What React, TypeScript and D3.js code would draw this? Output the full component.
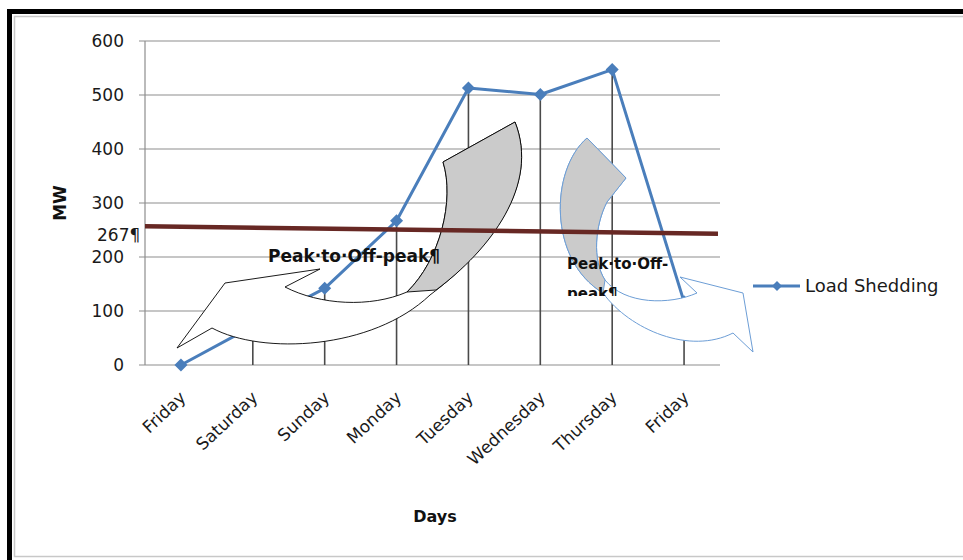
import React from 'react';
import * as d3 from 'd3';

const days = ['Friday', 'Saturday', 'Sunday', 'Monday', 'Tuesday', 'Wednesday', 'Thursday', 'Friday'];
const loadShedding = [0, 72, 142, 267, 513, 501, 547, 117];
const yTicks = [0, 100, 200, 300, 400, 500, 600];
// hand-drawn reference line (slightly sloped), MW at left and right end
const refLine = [257, 243];
const refLabel = '267¶';
const seriesName = 'Load Shedding';
const noteLeft = 'Peak·to·Off-peak¶';
const noteRight = ['Peak·to·Off-', 'peak¶'];

// the two curved callout arrows, page pixels
const arrow1Outline =
  'M285,287 L320,269 L225,283 L177,348 L212,328 C262,355 372,350 430,295 C490,250 540,185 515,122 L443,162 C455,200 440,260 407,292 C370,308 320,305 285,287 Z';
const arrow1Back = 'M443,162 L515,122 C540,185 490,250 436,290 L407,292 C440,260 455,200 443,162 Z';
const arrow2Outline =
  'M587,138 C550,170 548,260 603,293 C630,330 690,355 733,333 L753,352 L743,293 L680,277 L697,293 C670,305 625,305 605,280 C592,260 595,225 607,202 L626,178 Z';
const arrow2Back = 'M587,138 C550,170 548,260 603,293 L605,280 C592,260 595,225 607,202 L626,178 Z';

const font = '"DejaVu Sans", sans-serif';

export default function App() {
  const width = 963;
  const height = 560;
  const plot = { left: 145, right: 720, top: 41, bottom: 365 };

  const x = d3.scalePoint<number>()
    .domain(d3.range(days.length))
    .range([plot.left, plot.right])
    .padding(0.5);
  const y = d3.scaleLinear().domain([0, 600]).range([plot.bottom, plot.top]);

  const line = d3.line<number>()
    .x((_, i) => x(i)!)
    .y(d => y(d));

  const diamond = d3.symbol().type(d3.symbolSquare).size(85)()!;
  const legendDiamond = d3.symbol().type(d3.symbolSquare).size(50)()!;

  const blue = '#4a7ebb';

  return (
    <svg width={width} height={height} style={{ position: 'absolute', left: 0, top: 0, background: '#fff' }}>
      {/* frame */}
      <rect x={9.5} y={11.5} width={1000} height={560} fill="none" stroke="#000" strokeWidth={5} />
      <rect x={14.5} y={16.5} width={1000} height={540} fill="none" stroke="#c8c8c8" strokeWidth={1.5} />

      {/* gridlines + y ticks */}
      {yTicks.map(t => (
        <g key={t}>
          <line x1={plot.left - 6} x2={plot.right} y1={y(t)} y2={y(t)} stroke="#8e8e8e" strokeWidth={1.2} />
          <text x={124} y={y(t)} dy="0.36em" textAnchor="end" fontFamily={font} fontSize={17} fill="#1a1a1a">
            {t}
          </text>
        </g>
      ))}
      <line x1={plot.left} x2={plot.left} y1={plot.top} y2={plot.bottom} stroke="#8e8e8e" strokeWidth={1.2} />

      {/* drop lines */}
      {loadShedding.map((v, i) => (
        <line key={i} x1={x(i)} x2={x(i)} y1={y(v)} y2={plot.bottom} stroke="#4a4a4a" strokeWidth={1.6} />
      ))}

      {/* series */}
      <path d={line(loadShedding)!} fill="none" stroke={blue} strokeWidth={3} strokeLinejoin="round" />
      {loadShedding.map((v, i) => (
        <path key={i} d={diamond} transform={`translate(${x(i)},${y(v)}) rotate(45)`} fill={blue} />
      ))}

      {/* category labels */}
      {days.map((d, i) => (
        <text
          key={i}
          transform={`translate(${x(i)! + 6},${plot.bottom + 34}) rotate(-43)`}
          textAnchor="end"
          fontFamily={font}
          fontSize={17}
          fill="#1a1a1a"
        >
          {d}
        </text>
      ))}

      {/* arrows */}
      <path d={arrow1Outline} fill="#fff" stroke="#000" strokeWidth={0.9} />
      <path d={arrow1Back} fill="#cbcbcb" stroke="#000" strokeWidth={0.9} />
      <path d={arrow2Outline} fill="#fff" stroke="#6d9ed6" strokeWidth={1} />
      <path d={arrow2Back} fill="#cbcbcb" stroke="#6d9ed6" strokeWidth={1} />

      {/* reference line */}
      <line
        x1={plot.left}
        x2={plot.right - 2}
        y1={y(refLine[0])}
        y2={y(refLine[1])}
        stroke="#672824"
        strokeWidth={4.5}
      />
      <text x={97} y={241} fontFamily={font} fontSize={17} fill="#1a1a1a">{refLabel}</text>

      {/* notes */}
      <text x={268} y={262} fontFamily={font} fontSize={17} fontWeight="bold" fill="#111">{noteLeft}</text>
      <text x={567} y={269} fontFamily={font} fontSize={15} fontWeight="bold" fill="#111">{noteRight[0]}</text>
      <clipPath id="noteclip">
        <rect x={560} y={270} width={120} height={26} />
      </clipPath>
      <text x={567} y={299} fontFamily={font} fontSize={15} fontWeight="bold" fill="#111" clipPath="url(#noteclip)">
        {noteRight[1]}
      </text>

      {/* axis titles */}
      <text
        transform={`translate(66,${(plot.top + plot.bottom) / 2}) rotate(-90)`}
        textAnchor="middle"
        fontFamily={font}
        fontSize={17}
        fontWeight="bold"
        fill="#111"
      >
        MW
      </text>
      <text x={435} y={522} textAnchor="middle" fontFamily={font} fontSize={16} fontWeight="bold" fill="#111">
        Days
      </text>

      {/* legend */}
      <line x1={753} x2={800} y1={286} y2={286} stroke={blue} strokeWidth={3} />
      <path d={legendDiamond} transform="translate(777,286) rotate(45)" fill={blue} />
      <text x={805} y={292} fontFamily={font} fontSize={18} fill="#1a1a1a">{seriesName}</text>
    </svg>
  );
}
